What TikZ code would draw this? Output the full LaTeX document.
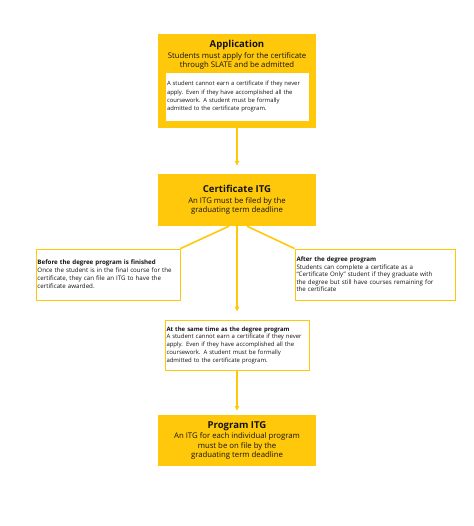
\documentclass[tikz,border=0pt]{standalone}
\usepackage{fontspec}
\setmainfont{Open Sans}
\usetikzlibrary{arrows.meta,calc}
\definecolor{gold}{HTML}{FFC80A}
\definecolor{txt}{HTML}{141414}
\tikzset{
  goldbox/.style={fill=gold,draw=none,minimum width=158bp,inner sep=0pt},
  notebox/.style={fill=white,draw=gold,line width=0.8bp,inner sep=1.5bp,align=left,
    font=\fontsize{5.9}{8.1}\selectfont,text=txt},
  conn/.style={draw=gold,line width=1.6bp},
  arr/.style={conn,-{Triangle[width=4.5bp,length=5bp]}},
  ttl/.style={font=\bfseries\fontsize{9.6}{11}\selectfont,text=txt,inner sep=0pt},
  sub/.style={font=\fontsize{7.8}{9.6}\selectfont,text=txt,align=center,inner sep=0pt},
}
\begin{document}
\begin{tikzpicture}[x=1bp,y=-1bp]
\useasboundingbox (0,0) rectangle (474,526);
% Application
\node[goldbox,minimum height=94bp] (app) at (237,81) {};
\node[ttl] (appt) at (237,45) {Application};
\node[sub] (apps) at (237,61) {Students must apply for the certificate\\through SLATE and be admitted};
\node[notebox,minimum width=144bp,minimum height=49bp,text width=140bp] (appn) at (237,96.5)
 {A student cannot earn a certificate if they never\\apply. Even if they have accomplished all the\\coursework. A student must be formally\\admitted to the certificate program.};
% Certificate ITG
\node[goldbox,minimum height=52bp] (cert) at (237,200) {};
\node[ttl] (certt) at (237,189) {Certificate ITG};
\node[sub] (certs) at (237,206) {An ITG must be filed by the\\graduating term deadline};
% side boxes
\node[notebox,minimum width=144bp,minimum height=51bp,text width=141bp,
  font=\fontsize{6.2}{8}\selectfont] (left) at (108,274.5)
 {\textbf{Before the degree program is finished}\\Once the student is in the final course for the\\certificate, they can file an ITG to have the\\certificate awarded.};
\node[notebox,minimum width=160bp,minimum height=51bp,text width=157bp,
  font=\fontsize{6.2}{7.6}\selectfont] (right) at (375,274.5)
 {\textbf{After the degree program}\\Students can complete a certificate as a\\“Certificate Only” student if they graduate with\\the degree but still have courses remaining for\\the certificate};
\node[notebox,minimum width=144bp,minimum height=50bp,text width=141bp,
  font=\fontsize{6.0}{7.8}\selectfont] (mid) at (237,345)
 {\textbf{At the same time as the degree program}\\A student cannot earn a certificate if they never\\apply. Even if they have accomplished all the\\coursework. A student must be formally\\admitted to the certificate program.};
% Program ITG
\node[goldbox,minimum height=51bp] (prog) at (237,440.5) {};
\node[ttl] (progt) at (237,426) {Program ITG};
\node[sub] (progs) at (237,446) {An ITG for each individual program\\must be on file by the\\graduating term deadline};
% connectors
\draw[arr] (app.south) -- ($(cert.north)+(0,-8)$);
\draw[conn] ($(cert.south)+(-8,0)$) -- (left.north east);
\draw[conn] ($(cert.south)+(10,0)$) -- (right.north west);
\draw[arr] (cert.south) -- ($(mid.north)+(0,-8)$);
\draw[arr] (mid.south) -- ($(prog.north)+(0,-4)$);
\end{tikzpicture}
\end{document}
